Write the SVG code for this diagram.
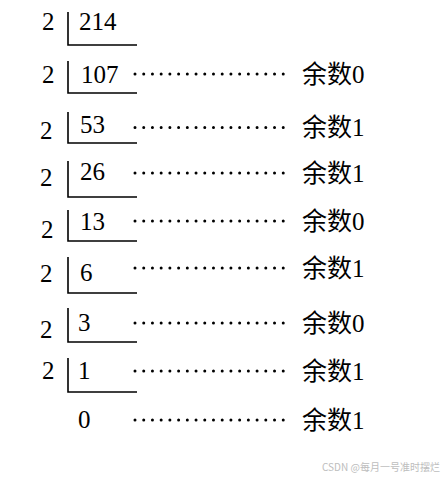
<svg xmlns="http://www.w3.org/2000/svg" width="441" height="479" viewBox="0 0 441 479">
<style>
.n{font-family:"Liberation Serif","Noto Sans CJK SC",serif;font-size:25px;fill:#000}
.r{font-family:"Liberation Serif","Noto Sans CJK SC",serif;font-size:25px;fill:#000}
.b{fill:none;stroke:#000;stroke-width:1.6}
.d{stroke:#000;stroke-width:3;stroke-linecap:round;stroke-dasharray:0 8.72}
.w{font-family:"Noto Sans CJK SC","Noto Sans",sans-serif;font-size:10px;fill:#bdbdbd}
</style>
<rect width="441" height="479" fill="#fff"/>
<g id="row-214"><text class="n" x="42" y="30">2</text><path class="b" d="M68 12V45H137"/><text class="n" x="79" y="30">214</text></g>
<g id="row-107"><text class="n" x="42" y="83">2</text><path class="b" d="M68 61V93H137"/><text class="n" x="81" y="83">107</text><text class="r" x="302" y="83">余数0</text></g>
<g id="row-53"><text class="n" x="40" y="139">2</text><path class="b" d="M68 112V143H137"/><text class="n" x="80" y="133">53</text><text class="r" x="302" y="136">余数1</text></g>
<g id="row-26"><text class="n" x="40" y="186">2</text><path class="b" d="M68 161V197H137"/><text class="n" x="80" y="180">26</text><text class="r" x="302" y="182">余数1</text></g>
<g id="row-13"><text class="n" x="41" y="238">2</text><path class="b" d="M68 210V241H137"/><text class="n" x="80" y="230">13</text><text class="r" x="302" y="230">余数0</text></g>
<g id="row-6"><text class="n" x="40" y="282">2</text><path class="b" d="M68 257V293H137"/><text class="n" x="80" y="281">6</text><text class="r" x="302" y="277">余数1</text></g>
<g id="row-3"><text class="n" x="40" y="338">2</text><path class="b" d="M68 308V342H137"/><text class="n" x="78" y="331">3</text><text class="r" x="302" y="332">余数0</text></g>
<g id="row-1"><text class="n" x="42" y="379">2</text><path class="b" d="M68 358V392H137"/><text class="n" x="78" y="379">1</text><text class="r" x="302" y="380">余数1</text></g>
<g id="row-0"><text class="n" x="78" y="428">0</text><text class="r" x="302" y="429">余数1</text></g>
<g id="connectors">
<line class="d" x1="135" y1="74" x2="283.5" y2="74"/>
<line class="d" x1="135" y1="127.5" x2="283.5" y2="127.5"/>
<line class="d" x1="135" y1="173" x2="283.5" y2="173"/>
<line class="d" x1="135" y1="221" x2="283.5" y2="221"/>
<line class="d" x1="135" y1="268" x2="283.5" y2="268"/>
<line class="d" x1="135" y1="323" x2="283.5" y2="323"/>
<line class="d" x1="135" y1="371" x2="283.5" y2="371"/>
<line class="d" x1="135" y1="420" x2="283.5" y2="420"/>
</g>
<text class="w" x="322" y="471">CSDN @每月一号准时摆烂</text>
</svg>
